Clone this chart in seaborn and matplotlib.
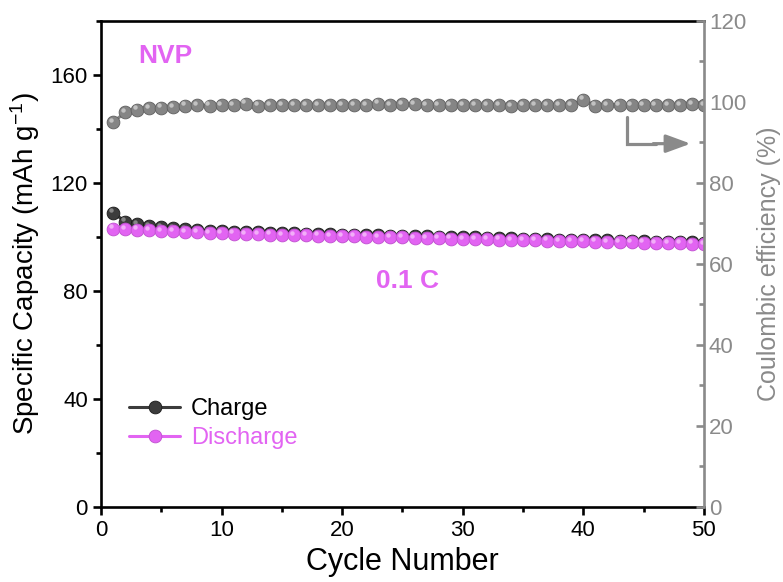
import numpy as np
import pandas as pd
import matplotlib
matplotlib.use("Agg")
import matplotlib.pyplot as plt
import matplotlib.transforms as mtransforms
from matplotlib.ticker import MultipleLocator
import seaborn as sns

cycles = list(range(1, 51))
charge = [109.0, 105.7, 104.8, 104.1, 103.6, 103.2, 102.8, 102.5, 102.3, 102.1,
          101.9, 101.8, 101.7, 101.5, 101.4, 101.3, 101.2, 101.1, 101.0, 100.9,
          100.8, 100.7, 100.6, 100.5, 100.5, 100.4, 100.3, 100.1, 100.0, 99.9,
          99.8, 99.7, 99.6, 99.5, 99.4, 99.2, 99.1, 99.0, 98.9, 98.9,
          98.8, 98.7, 98.6, 98.5, 98.4, 98.3, 98.2, 98.1, 98.0, 97.9]
discharge = [103.1, 102.9, 102.7, 102.5, 102.3, 102.1, 101.9, 101.7, 101.5, 101.3,
             101.2, 101.1, 101.0, 100.9, 100.8, 100.7, 100.6, 100.5, 100.4, 100.3,
             100.2, 100.1, 100.0, 99.9, 99.8, 99.7, 99.6, 99.5, 99.4, 99.3,
             99.2, 99.1, 99.0, 98.9, 98.8, 98.7, 98.6, 98.5, 98.4, 98.4,
             98.3, 98.2, 98.1, 98.0, 97.9, 97.8, 97.7, 97.6, 97.5, 97.4]
efficiency = [95.0, 97.4, 98.1, 98.4, 98.6, 98.7, 99.1, 99.2, 99.1, 99.2,
              99.3, 99.6, 99.1, 99.2, 99.2, 99.2, 99.3, 99.2, 99.2, 99.3,
              99.2, 99.2, 99.6, 99.2, 99.4, 99.5, 99.2, 99.3, 99.2, 99.3,
              99.2, 99.3, 99.2, 99.0, 99.3, 99.2, 99.3, 99.2, 99.3, 100.6,
              99.1, 99.3, 99.2, 99.2, 99.3, 99.2, 99.3, 99.2, 99.5, 99.2]

df = pd.DataFrame({"Cycle": cycles, "Charge": charge, "Discharge": discharge,
                   "Efficiency": efficiency})

sns.set_style("ticks")
plt.rcParams["font.family"] = ["Liberation Sans", "DejaVu Sans"]
plt.rcParams["mathtext.fontset"] = "custom"
plt.rcParams["mathtext.rm"] = "Liberation Sans"
plt.rcParams["mathtext.it"] = "Liberation Sans"
plt.rcParams["text.color"] = "black"
plt.rcParams["axes.labelcolor"] = "black"
plt.rcParams["xtick.color"] = "black"
plt.rcParams["ytick.color"] = "black"

C_CHG = "#3c3c3c"
C_DIS = "#e264f2"
C_EFF = "#858585"
C_AX2 = "#8a8a8a"

fig = plt.figure(figsize=(7.83, 5.82), dpi=100)
ax = fig.add_axes([0.129, 0.129, 0.770, 0.835])
ax2 = ax.twinx()

ms = 9.2
def sphere(axis, y, face, edge, hl, label=None):
    sns.lineplot(data=df, x="Cycle", y=y, ax=axis, color=face, lw=2.2,
                 marker="o", markersize=ms, markerfacecolor=face,
                 markeredgecolor=edge, markeredgewidth=0.6, label=label,
                 legend=False)
    off = mtransforms.ScaledTranslation(-1.6 / 72, 1.6 / 72, fig.dpi_scale_trans)
    axis.plot(df["Cycle"], df[y], ls="none", marker="o", markersize=3.2,
              color=hl, alpha=0.75, markeredgewidth=0,
              transform=axis.transData + off)

sphere(ax, "Charge", C_CHG, "#1a1a1a", "#a0a0a0", "Charge")
sphere(ax, "Discharge", C_DIS, "#c050d0", "#f8c8fb", "Discharge")
sphere(ax2, "Efficiency", C_EFF, "#606060", "#d8d8d8")

ax.set_xlim(0, 50)
ax.set_ylim(0, 180)
ax2.set_ylim(0, 120)
ax.set_xticks([0, 10, 20, 30, 40, 50])
ax.xaxis.set_minor_locator(MultipleLocator(5))
ax.set_yticks([0, 40, 80, 120, 160])
ax.yaxis.set_minor_locator(MultipleLocator(20))
ax2.set_yticks([0, 20, 40, 60, 80, 100, 120])
ax2.yaxis.set_minor_locator(MultipleLocator(10))

ax.set_xlabel("Cycle Number", fontsize=22, labelpad=4, color="black")
ax.set_ylabel("Specific Capacity (mAh g$^{-1}$)", fontsize=20, labelpad=6,
              color="black")
ax2.set_ylabel("Coulombic efficiency (%)", fontsize=18, color=C_AX2, labelpad=8)

for s in ["left", "bottom", "top"]:
    ax.spines[s].set_linewidth(1.9)
    ax.spines[s].set_color("black")
ax.spines["right"].set_visible(False)
for s in ["left", "bottom", "top"]:
    ax2.spines[s].set_visible(False)
ax2.spines["right"].set_color(C_AX2)
ax2.spines["right"].set_linewidth(1.9)

ax.tick_params(axis="both", which="major", direction="out", length=6,
               width=1.9, labelsize=16, color="black", labelcolor="black")
ax.tick_params(axis="both", which="minor", direction="out", length=3.5,
               width=1.9, color="black")
ax.tick_params(axis="y", which="both", right=False)
ax.tick_params(axis="x", which="both", top=False)
ax2.tick_params(axis="y", which="major", direction="in", length=6, width=1.9,
                labelsize=16, color=C_AX2, labelcolor=C_AX2)
ax2.tick_params(axis="y", which="minor", direction="in", length=3.5, width=1.9,
                color=C_AX2)

ax.text(3.1, 167, "NVP", fontsize=19, fontweight="bold", color=C_DIS,
        va="center", ha="left", zorder=5)
ax.text(22.8, 83.5, "0.1 C", fontsize=19, fontweight="bold", color=C_DIS,
        va="center", ha="left", zorder=5)

ax2.plot([43.6, 43.6, 46.0], [96.3, 89.7, 89.7], color=C_AX2, lw=2.3,
         solid_joinstyle="miter")
ax2.annotate("", xy=(48.9, 89.7), xytext=(45.8, 89.7),
             arrowprops=dict(arrowstyle="-|>,head_length=1.5,head_width=0.55",
                             color=C_AX2, lw=2.3, shrinkA=0, shrinkB=0))

leg = ax.legend(loc="upper left", bbox_to_anchor=(0.03, 0.243), frameon=False,
                fontsize=17, handlelength=2.2, handletextpad=0.45,
                labelspacing=0.3, borderaxespad=0)
for t, c in zip(leg.get_texts(), ["black", C_DIS]):
    t.set_color(c)

fig.savefig("out.png", dpi=100)
